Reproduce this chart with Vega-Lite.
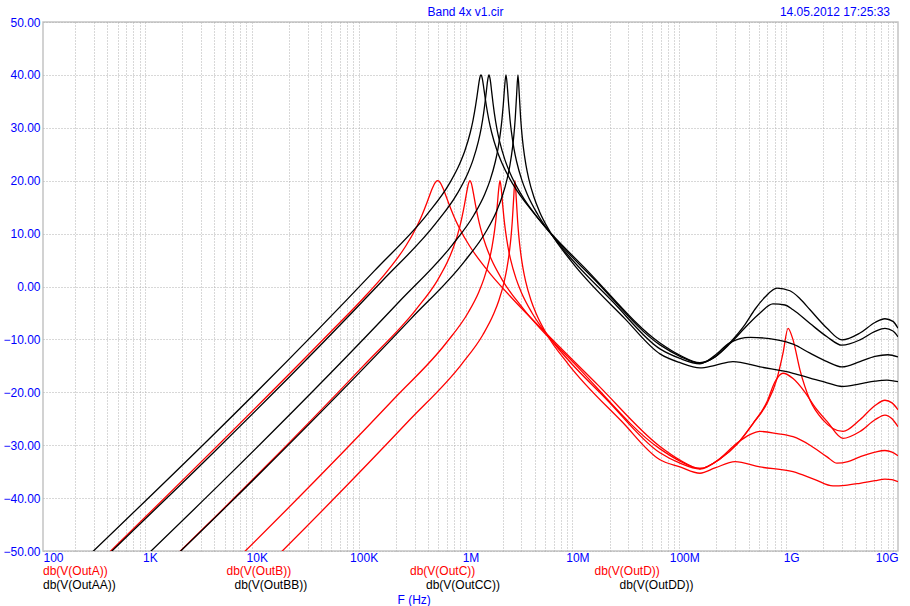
{
  "$schema": "https://vega.github.io/schema/vega-lite/v6.json",
  "width": 855,
  "height": 529,
  "autosize": {"type": "none"},
  "padding": {"left": 43, "top": 22, "right": 12, "bottom": 55},
  "background": "white",
  "config": {
    "view": {"stroke": "#c4c4c4", "strokeWidth": 1.5},
    "font": "Liberation Sans",
    "axis": {
      "domain": false, "ticks": false, "labelOverlap": false,
      "grid": true, "gridColor": "#b0b0b0", "gridDash": [1, 2], "gridWidth": 1, "gridOpacity": 1,
      "labelFont": "Liberation Sans", "labelFontSize": 12, "labelColor": "#0000ff",
      "titleFont": "Liberation Sans", "titleFontSize": 12, "titleFontWeight": "normal", "titleColor": "#0000ff"
    }
  },
  "datasets": {
    "curves": [
      {"trace": "db(V(OutA))", "log_f": 2, "db": -62.5},
      {"trace": "db(V(OutA))", "log_f": 4.693, "db": -8.55},
      {"trace": "db(V(OutA))", "log_f": 4.993, "db": -2.31},
      {"trace": "db(V(OutA))", "log_f": 5.193, "db": 2.2},
      {"trace": "db(V(OutA))", "log_f": 5.293, "db": 4.73},
      {"trace": "db(V(OutA))", "log_f": 5.393, "db": 7.61},
      {"trace": "db(V(OutA))", "log_f": 5.493, "db": 11.16},
      {"trace": "db(V(OutA))", "log_f": 5.543, "db": 13.34},
      {"trace": "db(V(OutA))", "log_f": 5.593, "db": 15.88},
      {"trace": "db(V(OutA))", "log_f": 5.618, "db": 17.25},
      {"trace": "db(V(OutA))", "log_f": 5.643, "db": 18.56},
      {"trace": "db(V(OutA))", "log_f": 5.668, "db": 19.59},
      {"trace": "db(V(OutA))", "log_f": 5.693, "db": 20.0},
      {"trace": "db(V(OutA))", "log_f": 5.718, "db": 19.59},
      {"trace": "db(V(OutA))", "log_f": 5.743, "db": 18.56},
      {"trace": "db(V(OutA))", "log_f": 5.768, "db": 17.25},
      {"trace": "db(V(OutA))", "log_f": 5.793, "db": 15.88},
      {"trace": "db(V(OutA))", "log_f": 5.843, "db": 13.34},
      {"trace": "db(V(OutA))", "log_f": 5.893, "db": 11.16},
      {"trace": "db(V(OutA))", "log_f": 5.993, "db": 7.61},
      {"trace": "db(V(OutA))", "log_f": 6.093, "db": 4.73},
      {"trace": "db(V(OutA))", "log_f": 6.193, "db": 2.2},
      {"trace": "db(V(OutA))", "log_f": 6.393, "db": -2.31},
      {"trace": "db(V(OutA))", "log_f": 6.693, "db": -8.55},
      {"trace": "db(V(OutA))", "log_f": 7.193, "db": -18.64},
      {"trace": "db(V(OutA))", "log_f": 7.773, "db": -30.24},
      {"trace": "db(V(OutA))", "log_f": 7.96, "db": -32.8},
      {"trace": "db(V(OutA))", "log_f": 8.147, "db": -34.4},
      {"trace": "db(V(OutA))", "log_f": 8.334, "db": -32.6},
      {"trace": "db(V(OutA))", "log_f": 8.494, "db": -29.8},
      {"trace": "db(V(OutA))", "log_f": 8.643, "db": -25.9},
      {"trace": "db(V(OutA))", "log_f": 8.774, "db": -22.1},
      {"trace": "db(V(OutA))", "log_f": 8.868, "db": -17.4},
      {"trace": "db(V(OutA))", "log_f": 8.924, "db": -12.6},
      {"trace": "db(V(OutA))", "log_f": 8.971, "db": -7.9},
      {"trace": "db(V(OutA))", "log_f": 9.018, "db": -10.1},
      {"trace": "db(V(OutA))", "log_f": 9.083, "db": -15.8},
      {"trace": "db(V(OutA))", "log_f": 9.177, "db": -21.5},
      {"trace": "db(V(OutA))", "log_f": 9.298, "db": -25.2},
      {"trace": "db(V(OutA))", "log_f": 9.485, "db": -27.4},
      {"trace": "db(V(OutA))", "log_f": 9.644, "db": -25.2},
      {"trace": "db(V(OutA))", "log_f": 9.785, "db": -22.5},
      {"trace": "db(V(OutA))", "log_f": 9.878, "db": -21.5},
      {"trace": "db(V(OutA))", "log_f": 9.944, "db": -22.0},
      {"trace": "db(V(OutA))", "log_f": 10.0, "db": -23.3},

      {"trace": "db(V(OutB))", "log_f": 2, "db": -75.04},
      {"trace": "db(V(OutB))", "log_f": 4.995, "db": -15.05},
      {"trace": "db(V(OutB))", "log_f": 5.495, "db": -4.24},
      {"trace": "db(V(OutB))", "log_f": 5.695, "db": 1.31},
      {"trace": "db(V(OutB))", "log_f": 5.795, "db": 5.13},
      {"trace": "db(V(OutB))", "log_f": 5.845, "db": 7.64},
      {"trace": "db(V(OutB))", "log_f": 5.895, "db": 10.94},
      {"trace": "db(V(OutB))", "log_f": 5.92, "db": 13.07},
      {"trace": "db(V(OutB))", "log_f": 5.945, "db": 15.62},
      {"trace": "db(V(OutB))", "log_f": 5.9575, "db": 17.04},
      {"trace": "db(V(OutB))", "log_f": 5.97, "db": 18.43},
      {"trace": "db(V(OutB))", "log_f": 5.9825, "db": 19.55},
      {"trace": "db(V(OutB))", "log_f": 5.995, "db": 19.99},
      {"trace": "db(V(OutB))", "log_f": 6.0075, "db": 19.55},
      {"trace": "db(V(OutB))", "log_f": 6.02, "db": 18.43},
      {"trace": "db(V(OutB))", "log_f": 6.0325, "db": 17.04},
      {"trace": "db(V(OutB))", "log_f": 6.045, "db": 15.62},
      {"trace": "db(V(OutB))", "log_f": 6.07, "db": 13.07},
      {"trace": "db(V(OutB))", "log_f": 6.095, "db": 10.94},
      {"trace": "db(V(OutB))", "log_f": 6.145, "db": 7.64},
      {"trace": "db(V(OutB))", "log_f": 6.195, "db": 5.13},
      {"trace": "db(V(OutB))", "log_f": 6.295, "db": 1.31},
      {"trace": "db(V(OutB))", "log_f": 6.495, "db": -4.24},
      {"trace": "db(V(OutB))", "log_f": 6.995, "db": -15.05},
      {"trace": "db(V(OutB))", "log_f": 7.773, "db": -30.7},
      {"trace": "db(V(OutB))", "log_f": 7.96, "db": -33.0},
      {"trace": "db(V(OutB))", "log_f": 8.147, "db": -34.4},
      {"trace": "db(V(OutB))", "log_f": 8.334, "db": -32.6},
      {"trace": "db(V(OutB))", "log_f": 8.494, "db": -29.8},
      {"trace": "db(V(OutB))", "log_f": 8.643, "db": -25.9},
      {"trace": "db(V(OutB))", "log_f": 8.774, "db": -21.8},
      {"trace": "db(V(OutB))", "log_f": 8.849, "db": -18.0},
      {"trace": "db(V(OutB))", "log_f": 8.924, "db": -16.4},
      {"trace": "db(V(OutB))", "log_f": 9.018, "db": -17.4},
      {"trace": "db(V(OutB))", "log_f": 9.13, "db": -20.0},
      {"trace": "db(V(OutB))", "log_f": 9.223, "db": -22.8},
      {"trace": "db(V(OutB))", "log_f": 9.336, "db": -25.5},
      {"trace": "db(V(OutB))", "log_f": 9.485, "db": -28.7},
      {"trace": "db(V(OutB))", "log_f": 9.644, "db": -27.4},
      {"trace": "db(V(OutB))", "log_f": 9.785, "db": -25.2},
      {"trace": "db(V(OutB))", "log_f": 9.878, "db": -24.3},
      {"trace": "db(V(OutB))", "log_f": 9.944, "db": -25.0},
      {"trace": "db(V(OutB))", "log_f": 10.0, "db": -26.5},

      {"trace": "db(V(OutC))", "log_f": 2, "db": -87.02},
      {"trace": "db(V(OutC))", "log_f": 5.276, "db": -21.41},
      {"trace": "db(V(OutC))", "log_f": 5.776, "db": -10.59},
      {"trace": "db(V(OutC))", "log_f": 5.976, "db": -5.0},
      {"trace": "db(V(OutC))", "log_f": 6.076, "db": -1.12},
      {"trace": "db(V(OutC))", "log_f": 6.126, "db": 1.48},
      {"trace": "db(V(OutC))", "log_f": 6.176, "db": 5.02},
      {"trace": "db(V(OutC))", "log_f": 6.201, "db": 7.44},
      {"trace": "db(V(OutC))", "log_f": 6.226, "db": 10.69},
      {"trace": "db(V(OutC))", "log_f": 6.2385, "db": 12.82},
      {"trace": "db(V(OutC))", "log_f": 6.251, "db": 15.42},
      {"trace": "db(V(OutC))", "log_f": 6.2635, "db": 18.34},
      {"trace": "db(V(OutC))", "log_f": 6.276, "db": 20.01},
      {"trace": "db(V(OutC))", "log_f": 6.2885, "db": 18.34},
      {"trace": "db(V(OutC))", "log_f": 6.301, "db": 15.42},
      {"trace": "db(V(OutC))", "log_f": 6.3135, "db": 12.82},
      {"trace": "db(V(OutC))", "log_f": 6.326, "db": 10.69},
      {"trace": "db(V(OutC))", "log_f": 6.351, "db": 7.44},
      {"trace": "db(V(OutC))", "log_f": 6.376, "db": 5.02},
      {"trace": "db(V(OutC))", "log_f": 6.426, "db": 1.48},
      {"trace": "db(V(OutC))", "log_f": 6.476, "db": -1.12},
      {"trace": "db(V(OutC))", "log_f": 6.576, "db": -5.0},
      {"trace": "db(V(OutC))", "log_f": 6.776, "db": -10.59},
      {"trace": "db(V(OutC))", "log_f": 7.276, "db": -21.41},
      {"trace": "db(V(OutC))", "log_f": 7.773, "db": -31.44},
      {"trace": "db(V(OutC))", "log_f": 7.96, "db": -33.4},
      {"trace": "db(V(OutC))", "log_f": 8.147, "db": -34.5},
      {"trace": "db(V(OutC))", "log_f": 8.334, "db": -32.5},
      {"trace": "db(V(OutC))", "log_f": 8.494, "db": -29.6},
      {"trace": "db(V(OutC))", "log_f": 8.615, "db": -28.0},
      {"trace": "db(V(OutC))", "log_f": 8.709, "db": -27.4},
      {"trace": "db(V(OutC))", "log_f": 8.868, "db": -27.8},
      {"trace": "db(V(OutC))", "log_f": 9.018, "db": -28.4},
      {"trace": "db(V(OutC))", "log_f": 9.177, "db": -30.0},
      {"trace": "db(V(OutC))", "log_f": 9.336, "db": -32.2},
      {"trace": "db(V(OutC))", "log_f": 9.429, "db": -33.4},
      {"trace": "db(V(OutC))", "log_f": 9.532, "db": -33.1},
      {"trace": "db(V(OutC))", "log_f": 9.644, "db": -32.2},
      {"trace": "db(V(OutC))", "log_f": 9.785, "db": -31.3},
      {"trace": "db(V(OutC))", "log_f": 9.878, "db": -31.0},
      {"trace": "db(V(OutC))", "log_f": 9.944, "db": -31.3},
      {"trace": "db(V(OutC))", "log_f": 10.0, "db": -32.0},

      {"trace": "db(V(OutD))", "log_f": 2, "db": -93.94},
      {"trace": "db(V(OutD))", "log_f": 5.416, "db": -25.53},
      {"trace": "db(V(OutD))", "log_f": 5.916, "db": -14.71},
      {"trace": "db(V(OutD))", "log_f": 6.116, "db": -9.12},
      {"trace": "db(V(OutD))", "log_f": 6.216, "db": -5.22},
      {"trace": "db(V(OutD))", "log_f": 6.266, "db": -2.6},
      {"trace": "db(V(OutD))", "log_f": 6.316, "db": 0.98},
      {"trace": "db(V(OutD))", "log_f": 6.341, "db": 3.47},
      {"trace": "db(V(OutD))", "log_f": 6.366, "db": 6.9},
      {"trace": "db(V(OutD))", "log_f": 6.3785, "db": 9.24},
      {"trace": "db(V(OutD))", "log_f": 6.391, "db": 12.34},
      {"trace": "db(V(OutD))", "log_f": 6.4035, "db": 16.56},
      {"trace": "db(V(OutD))", "log_f": 6.416, "db": 20.0},
      {"trace": "db(V(OutD))", "log_f": 6.4285, "db": 16.56},
      {"trace": "db(V(OutD))", "log_f": 6.441, "db": 12.34},
      {"trace": "db(V(OutD))", "log_f": 6.4535, "db": 9.24},
      {"trace": "db(V(OutD))", "log_f": 6.466, "db": 6.9},
      {"trace": "db(V(OutD))", "log_f": 6.491, "db": 3.47},
      {"trace": "db(V(OutD))", "log_f": 6.516, "db": 0.98},
      {"trace": "db(V(OutD))", "log_f": 6.566, "db": -2.6},
      {"trace": "db(V(OutD))", "log_f": 6.616, "db": -5.22},
      {"trace": "db(V(OutD))", "log_f": 6.716, "db": -9.12},
      {"trace": "db(V(OutD))", "log_f": 6.916, "db": -14.71},
      {"trace": "db(V(OutD))", "log_f": 7.416, "db": -25.53},
      {"trace": "db(V(OutD))", "log_f": 7.773, "db": -32.76},
      {"trace": "db(V(OutD))", "log_f": 7.96, "db": -34.1},
      {"trace": "db(V(OutD))", "log_f": 8.147, "db": -35.3},
      {"trace": "db(V(OutD))", "log_f": 8.288, "db": -34.3},
      {"trace": "db(V(OutD))", "log_f": 8.475, "db": -33.1},
      {"trace": "db(V(OutD))", "log_f": 8.709, "db": -34.1},
      {"trace": "db(V(OutD))", "log_f": 9.018, "db": -35.0},
      {"trace": "db(V(OutD))", "log_f": 9.223, "db": -36.5},
      {"trace": "db(V(OutD))", "log_f": 9.392, "db": -37.7},
      {"trace": "db(V(OutD))", "log_f": 9.504, "db": -37.6},
      {"trace": "db(V(OutD))", "log_f": 9.644, "db": -37.2},
      {"trace": "db(V(OutD))", "log_f": 9.785, "db": -36.7},
      {"trace": "db(V(OutD))", "log_f": 9.878, "db": -36.4},
      {"trace": "db(V(OutD))", "log_f": 9.944, "db": -36.5},
      {"trace": "db(V(OutD))", "log_f": 10.0, "db": -36.9},

      {"trace": "db(V(OutAA))", "log_f": 2, "db": -59.14},
      {"trace": "db(V(OutAA))", "log_f": 5.098, "db": 2.91},
      {"trace": "db(V(OutAA))", "log_f": 5.598, "db": 13.73},
      {"trace": "db(V(OutAA))", "log_f": 5.798, "db": 19.3},
      {"trace": "db(V(OutAA))", "log_f": 5.898, "db": 23.14},
      {"trace": "db(V(OutAA))", "log_f": 5.948, "db": 25.7},
      {"trace": "db(V(OutAA))", "log_f": 5.998, "db": 29.11},
      {"trace": "db(V(OutAA))", "log_f": 6.023, "db": 31.37},
      {"trace": "db(V(OutAA))", "log_f": 6.048, "db": 34.22},
      {"trace": "db(V(OutAA))", "log_f": 6.0605, "db": 35.91},
      {"trace": "db(V(OutAA))", "log_f": 6.073, "db": 37.7},
      {"trace": "db(V(OutAA))", "log_f": 6.0855, "db": 39.29},
      {"trace": "db(V(OutAA))", "log_f": 6.098, "db": 39.98},
      {"trace": "db(V(OutAA))", "log_f": 6.1105, "db": 39.29},
      {"trace": "db(V(OutAA))", "log_f": 6.123, "db": 37.7},
      {"trace": "db(V(OutAA))", "log_f": 6.1355, "db": 35.91},
      {"trace": "db(V(OutAA))", "log_f": 6.148, "db": 34.22},
      {"trace": "db(V(OutAA))", "log_f": 6.173, "db": 31.37},
      {"trace": "db(V(OutAA))", "log_f": 6.198, "db": 29.11},
      {"trace": "db(V(OutAA))", "log_f": 6.248, "db": 25.7},
      {"trace": "db(V(OutAA))", "log_f": 6.298, "db": 23.14},
      {"trace": "db(V(OutAA))", "log_f": 6.398, "db": 19.3},
      {"trace": "db(V(OutAA))", "log_f": 6.598, "db": 13.73},
      {"trace": "db(V(OutAA))", "log_f": 7.098, "db": 2.91},
      {"trace": "db(V(OutAA))", "log_f": 7.773, "db": -10.68},
      {"trace": "db(V(OutAA))", "log_f": 7.96, "db": -13.0},
      {"trace": "db(V(OutAA))", "log_f": 8.147, "db": -14.4},
      {"trace": "db(V(OutAA))", "log_f": 8.288, "db": -13.3},
      {"trace": "db(V(OutAA))", "log_f": 8.428, "db": -10.6},
      {"trace": "db(V(OutAA))", "log_f": 8.568, "db": -7.2},
      {"trace": "db(V(OutAA))", "log_f": 8.662, "db": -4.3},
      {"trace": "db(V(OutAA))", "log_f": 8.756, "db": -2.0},
      {"trace": "db(V(OutAA))", "log_f": 8.868, "db": -0.3},
      {"trace": "db(V(OutAA))", "log_f": 8.989, "db": -0.8},
      {"trace": "db(V(OutAA))", "log_f": 9.083, "db": -2.3},
      {"trace": "db(V(OutAA))", "log_f": 9.177, "db": -4.4},
      {"trace": "db(V(OutAA))", "log_f": 9.336, "db": -7.9},
      {"trace": "db(V(OutAA))", "log_f": 9.476, "db": -10.1},
      {"trace": "db(V(OutAA))", "log_f": 9.644, "db": -8.8},
      {"trace": "db(V(OutAA))", "log_f": 9.785, "db": -6.8},
      {"trace": "db(V(OutAA))", "log_f": 9.878, "db": -6.1},
      {"trace": "db(V(OutAA))", "log_f": 9.953, "db": -6.6},
      {"trace": "db(V(OutAA))", "log_f": 10.0, "db": -7.9},

      {"trace": "db(V(OutBB))", "log_f": 2, "db": -62.5},
      {"trace": "db(V(OutBB))", "log_f": 5.173, "db": 1.05},
      {"trace": "db(V(OutBB))", "log_f": 5.673, "db": 11.87},
      {"trace": "db(V(OutBB))", "log_f": 5.873, "db": 17.45},
      {"trace": "db(V(OutBB))", "log_f": 5.973, "db": 21.31},
      {"trace": "db(V(OutBB))", "log_f": 6.023, "db": 23.89},
      {"trace": "db(V(OutBB))", "log_f": 6.073, "db": 27.37},
      {"trace": "db(V(OutBB))", "log_f": 6.098, "db": 29.72},
      {"trace": "db(V(OutBB))", "log_f": 6.123, "db": 32.78},
      {"trace": "db(V(OutBB))", "log_f": 6.1355, "db": 34.69},
      {"trace": "db(V(OutBB))", "log_f": 6.148, "db": 36.85},
      {"trace": "db(V(OutBB))", "log_f": 6.1605, "db": 38.97},
      {"trace": "db(V(OutBB))", "log_f": 6.173, "db": 40.0},
      {"trace": "db(V(OutBB))", "log_f": 6.1855, "db": 38.97},
      {"trace": "db(V(OutBB))", "log_f": 6.198, "db": 36.85},
      {"trace": "db(V(OutBB))", "log_f": 6.2105, "db": 34.69},
      {"trace": "db(V(OutBB))", "log_f": 6.223, "db": 32.78},
      {"trace": "db(V(OutBB))", "log_f": 6.248, "db": 29.72},
      {"trace": "db(V(OutBB))", "log_f": 6.273, "db": 27.37},
      {"trace": "db(V(OutBB))", "log_f": 6.323, "db": 23.89},
      {"trace": "db(V(OutBB))", "log_f": 6.373, "db": 21.31},
      {"trace": "db(V(OutBB))", "log_f": 6.473, "db": 17.45},
      {"trace": "db(V(OutBB))", "log_f": 6.673, "db": 11.87},
      {"trace": "db(V(OutBB))", "log_f": 7.173, "db": 1.05},
      {"trace": "db(V(OutBB))", "log_f": 7.773, "db": -11.04},
      {"trace": "db(V(OutBB))", "log_f": 7.96, "db": -13.2},
      {"trace": "db(V(OutBB))", "log_f": 8.147, "db": -14.5},
      {"trace": "db(V(OutBB))", "log_f": 8.288, "db": -13.3},
      {"trace": "db(V(OutBB))", "log_f": 8.428, "db": -10.8},
      {"trace": "db(V(OutBB))", "log_f": 8.568, "db": -7.8},
      {"trace": "db(V(OutBB))", "log_f": 8.709, "db": -5.0},
      {"trace": "db(V(OutBB))", "log_f": 8.83, "db": -3.3},
      {"trace": "db(V(OutBB))", "log_f": 8.943, "db": -3.5},
      {"trace": "db(V(OutBB))", "log_f": 9.018, "db": -4.4},
      {"trace": "db(V(OutBB))", "log_f": 9.177, "db": -7.0},
      {"trace": "db(V(OutBB))", "log_f": 9.336, "db": -9.5},
      {"trace": "db(V(OutBB))", "log_f": 9.476, "db": -11.1},
      {"trace": "db(V(OutBB))", "log_f": 9.644, "db": -10.1},
      {"trace": "db(V(OutBB))", "log_f": 9.785, "db": -8.5},
      {"trace": "db(V(OutBB))", "log_f": 9.878, "db": -7.9},
      {"trace": "db(V(OutBB))", "log_f": 9.953, "db": -8.4},
      {"trace": "db(V(OutBB))", "log_f": 10.0, "db": -9.5},

      {"trace": "db(V(OutCC))", "log_f": 2, "db": -69.62},
      {"trace": "db(V(OutCC))", "log_f": 5.332, "db": -2.89},
      {"trace": "db(V(OutCC))", "log_f": 5.832, "db": 7.93},
      {"trace": "db(V(OutCC))", "log_f": 6.032, "db": 13.52},
      {"trace": "db(V(OutCC))", "log_f": 6.132, "db": 17.41},
      {"trace": "db(V(OutCC))", "log_f": 6.182, "db": 20.02},
      {"trace": "db(V(OutCC))", "log_f": 6.232, "db": 23.58},
      {"trace": "db(V(OutCC))", "log_f": 6.257, "db": 26.03},
      {"trace": "db(V(OutCC))", "log_f": 6.282, "db": 29.36},
      {"trace": "db(V(OutCC))", "log_f": 6.2945, "db": 31.59},
      {"trace": "db(V(OutCC))", "log_f": 6.307, "db": 34.4},
      {"trace": "db(V(OutCC))", "log_f": 6.3195, "db": 37.81},
      {"trace": "db(V(OutCC))", "log_f": 6.332, "db": 40.0},
      {"trace": "db(V(OutCC))", "log_f": 6.3445, "db": 37.81},
      {"trace": "db(V(OutCC))", "log_f": 6.357, "db": 34.4},
      {"trace": "db(V(OutCC))", "log_f": 6.3695, "db": 31.59},
      {"trace": "db(V(OutCC))", "log_f": 6.382, "db": 29.36},
      {"trace": "db(V(OutCC))", "log_f": 6.407, "db": 26.03},
      {"trace": "db(V(OutCC))", "log_f": 6.432, "db": 23.58},
      {"trace": "db(V(OutCC))", "log_f": 6.482, "db": 20.02},
      {"trace": "db(V(OutCC))", "log_f": 6.532, "db": 17.41},
      {"trace": "db(V(OutCC))", "log_f": 6.632, "db": 13.52},
      {"trace": "db(V(OutCC))", "log_f": 6.832, "db": 7.93},
      {"trace": "db(V(OutCC))", "log_f": 7.332, "db": -2.89},
      {"trace": "db(V(OutCC))", "log_f": 7.773, "db": -11.8},
      {"trace": "db(V(OutCC))", "log_f": 7.96, "db": -13.6},
      {"trace": "db(V(OutCC))", "log_f": 8.147, "db": -14.6},
      {"trace": "db(V(OutCC))", "log_f": 8.288, "db": -13.0},
      {"trace": "db(V(OutCC))", "log_f": 8.428, "db": -10.6},
      {"trace": "db(V(OutCC))", "log_f": 8.615, "db": -9.6},
      {"trace": "db(V(OutCC))", "log_f": 8.868, "db": -10.1},
      {"trace": "db(V(OutCC))", "log_f": 9.018, "db": -10.9},
      {"trace": "db(V(OutCC))", "log_f": 9.177, "db": -12.6},
      {"trace": "db(V(OutCC))", "log_f": 9.336, "db": -14.2},
      {"trace": "db(V(OutCC))", "log_f": 9.476, "db": -15.2},
      {"trace": "db(V(OutCC))", "log_f": 9.644, "db": -14.2},
      {"trace": "db(V(OutCC))", "log_f": 9.785, "db": -13.2},
      {"trace": "db(V(OutCC))", "log_f": 9.906, "db": -12.9},
      {"trace": "db(V(OutCC))", "log_f": 10.0, "db": -13.3},

      {"trace": "db(V(OutDD))", "log_f": 2, "db": -75.04},
      {"trace": "db(V(OutDD))", "log_f": 5.444, "db": -6.07},
      {"trace": "db(V(OutDD))", "log_f": 5.944, "db": 4.75},
      {"trace": "db(V(OutDD))", "log_f": 6.144, "db": 10.34},
      {"trace": "db(V(OutDD))", "log_f": 6.244, "db": 14.24},
      {"trace": "db(V(OutDD))", "log_f": 6.294, "db": 16.86},
      {"trace": "db(V(OutDD))", "log_f": 6.344, "db": 20.45},
      {"trace": "db(V(OutDD))", "log_f": 6.369, "db": 22.94},
      {"trace": "db(V(OutDD))", "log_f": 6.394, "db": 26.38},
      {"trace": "db(V(OutDD))", "log_f": 6.4065, "db": 28.75},
      {"trace": "db(V(OutDD))", "log_f": 6.419, "db": 31.89},
      {"trace": "db(V(OutDD))", "log_f": 6.4315, "db": 36.25},
      {"trace": "db(V(OutDD))", "log_f": 6.444, "db": 39.99},
      {"trace": "db(V(OutDD))", "log_f": 6.4565, "db": 36.25},
      {"trace": "db(V(OutDD))", "log_f": 6.469, "db": 31.89},
      {"trace": "db(V(OutDD))", "log_f": 6.4815, "db": 28.75},
      {"trace": "db(V(OutDD))", "log_f": 6.494, "db": 26.38},
      {"trace": "db(V(OutDD))", "log_f": 6.519, "db": 22.94},
      {"trace": "db(V(OutDD))", "log_f": 6.544, "db": 20.45},
      {"trace": "db(V(OutDD))", "log_f": 6.594, "db": 16.86},
      {"trace": "db(V(OutDD))", "log_f": 6.644, "db": 14.24},
      {"trace": "db(V(OutDD))", "log_f": 6.744, "db": 10.34},
      {"trace": "db(V(OutDD))", "log_f": 6.944, "db": 4.75},
      {"trace": "db(V(OutDD))", "log_f": 7.444, "db": -6.07},
      {"trace": "db(V(OutDD))", "log_f": 7.773, "db": -12.74},
      {"trace": "db(V(OutDD))", "log_f": 7.96, "db": -14.4},
      {"trace": "db(V(OutDD))", "log_f": 8.147, "db": -15.4},
      {"trace": "db(V(OutDD))", "log_f": 8.288, "db": -14.9},
      {"trace": "db(V(OutDD))", "log_f": 8.456, "db": -14.2},
      {"trace": "db(V(OutDD))", "log_f": 8.709, "db": -15.2},
      {"trace": "db(V(OutDD))", "log_f": 9.018, "db": -16.4},
      {"trace": "db(V(OutDD))", "log_f": 9.177, "db": -17.3},
      {"trace": "db(V(OutDD))", "log_f": 9.336, "db": -18.2},
      {"trace": "db(V(OutDD))", "log_f": 9.476, "db": -18.9},
      {"trace": "db(V(OutDD))", "log_f": 9.644, "db": -18.4},
      {"trace": "db(V(OutDD))", "log_f": 9.785, "db": -17.9},
      {"trace": "db(V(OutDD))", "log_f": 9.897, "db": -17.7},
      {"trace": "db(V(OutDD))", "log_f": 10.0, "db": -18.0}
    ]
  },
  "layer": [
    {
      "mark": {"type": "rule", "color": "#0000ff", "strokeWidth": 2},
      "encoding": {
        "y": {"datum": 0, "type": "quantitative", "scale": {"domain": [-50, 50], "nice": false, "zero": false}}
      }
    },
    {
      "data": {"name": "curves"},
      "transform": [{"filter": {"field": "trace", "oneOf": ["db(V(OutA))", "db(V(OutB))", "db(V(OutC))", "db(V(OutD))"]}}],
      "mark": {"type": "line", "clip": true, "strokeWidth": 1.3, "interpolate": "monotone"},
      "encoding": {
        "x": {
          "field": "log_f", "type": "quantitative",
          "scale": {"domain": [2, 10], "nice": false, "zero": false},
          "axis": {
            "orient": "bottom", "labels": false, "title": null,
            "values": [2.30103, 2.47712, 2.60206, 2.69897, 2.77815, 2.8451, 2.90309, 2.95424,
                       3.30103, 3.47712, 3.60206, 3.69897, 3.77815, 3.8451, 3.90309, 3.95424,
                       4.30103, 4.47712, 4.60206, 4.69897, 4.77815, 4.8451, 4.90309, 4.95424,
                       5.30103, 5.47712, 5.60206, 5.69897, 5.77815, 5.8451, 5.90309, 5.95424,
                       6.30103, 6.47712, 6.60206, 6.69897, 6.77815, 6.8451, 6.90309, 6.95424,
                       7.30103, 7.47712, 7.60206, 7.69897, 7.77815, 7.8451, 7.90309, 7.95424,
                       8.30103, 8.47712, 8.60206, 8.69897, 8.77815, 8.8451, 8.90309, 8.95424,
                       9.30103, 9.47712, 9.60206, 9.69897, 9.77815, 9.8451, 9.90309, 9.95424]
          }
        },
        "y": {
          "field": "db", "type": "quantitative",
          "scale": {"domain": [-50, 50], "nice": false, "zero": false},
          "axis": {"values": [-50, -40, -30, -20, -10, 0, 10, 20, 30, 40, 50], "format": ".2f", "title": null, "labelPadding": 3}
        },
        "color": {
          "field": "trace", "type": "nominal",
          "scale": {"domain": ["db(V(OutA))", "db(V(OutB))", "db(V(OutC))", "db(V(OutD))"], "range": ["#ff0000", "#ff0000", "#ff0000", "#ff0000"]},
          "legend": {"title": null, "orient": "none", "legendX": -12, "legendY": 543, "direction": "horizontal", "columns": 4, "columnPadding": 106.5, "symbolSize": 0, "symbolStrokeWidth": 0, "symbolOpacity": 0, "labelOffset": 0, "labelColor": "#ff0000", "labelFont": "Liberation Sans", "labelFontSize": 12, "labelLimit": 300, "padding": 0}
        }
      }
    },
    {
      "data": {"name": "curves"},
      "transform": [{"filter": {"field": "trace", "oneOf": ["db(V(OutAA))", "db(V(OutBB))", "db(V(OutCC))", "db(V(OutDD))"]}}],
      "mark": {"type": "line", "clip": true, "strokeWidth": 1.3, "interpolate": "monotone"},
      "encoding": {
        "x": {
          "field": "log_f", "type": "quantitative",
          "scale": {"domain": [2, 10], "nice": false, "zero": false},
          "axis": {
            "orient": "bottom",
            "values": [2, 3, 4, 5, 6, 7, 8, 9, 10],
            "labelExpr": "['100','1K','10K','100K','1M','10M','100M','1G','10G'][round(datum.value) - 2]",
            "labelFlush": true, "labelOverlap": false, "labelPadding": 1,
            "title": "F (Hz)", "titleX": 354, "titleY": 48, "titleAlign": "left", "titleBaseline": "middle", "titleAnchor": "start"
          }
        },
        "y": {
          "field": "db", "type": "quantitative",
          "scale": {"domain": [-50, 50], "nice": false, "zero": false},
          "axis": {"values": [-50, -40, -30, -20, -10, 0, 10, 20, 30, 40, 50], "format": ".2f", "title": null, "labelPadding": 3}
        },
        "color": {
          "field": "trace", "type": "nominal",
          "scale": {"domain": ["db(V(OutAA))", "db(V(OutBB))", "db(V(OutCC))", "db(V(OutDD))"], "range": ["#000000", "#000000", "#000000", "#000000"]},
          "legend": {"title": null, "orient": "none", "legendX": -12, "legendY": 557, "direction": "horizontal", "columns": 4, "columnPadding": 106.5, "symbolSize": 0, "symbolStrokeWidth": 0, "symbolOpacity": 0, "labelOffset": 0, "labelColor": "#000000", "labelFont": "Liberation Sans", "labelFontSize": 12, "labelLimit": 300, "padding": 0}
        }
      }
    },
    {
      "data": {"values": [{"heading": "Band 4x v1.cir", "stamp": "14.05.2012 17:25:33"}]},
      "layer": [
        {
          "mark": {"type": "text", "align": "center", "baseline": "bottom", "dx": -5, "dy": -3, "font": "Liberation Sans", "fontSize": 12, "color": "#0000ff"},
          "encoding": {
            "x": {"datum": 6, "type": "quantitative", "axis": null},
            "y": {"datum": 50, "type": "quantitative"},
            "text": {"field": "heading"}
          }
        },
        {
          "mark": {"type": "text", "align": "right", "baseline": "bottom", "dx": -8, "dy": -3, "font": "Liberation Sans", "fontSize": 12, "color": "#0000ff"},
          "encoding": {
            "x": {"datum": 10, "type": "quantitative", "axis": null},
            "y": {"datum": 50, "type": "quantitative"},
            "text": {"field": "stamp"}
          }
        }
      ]
    }
  ],
  "resolve": {"scale": {"color": "independent"}, "legend": {"color": "independent"}, "axis": {"x": "independent"}}
}
